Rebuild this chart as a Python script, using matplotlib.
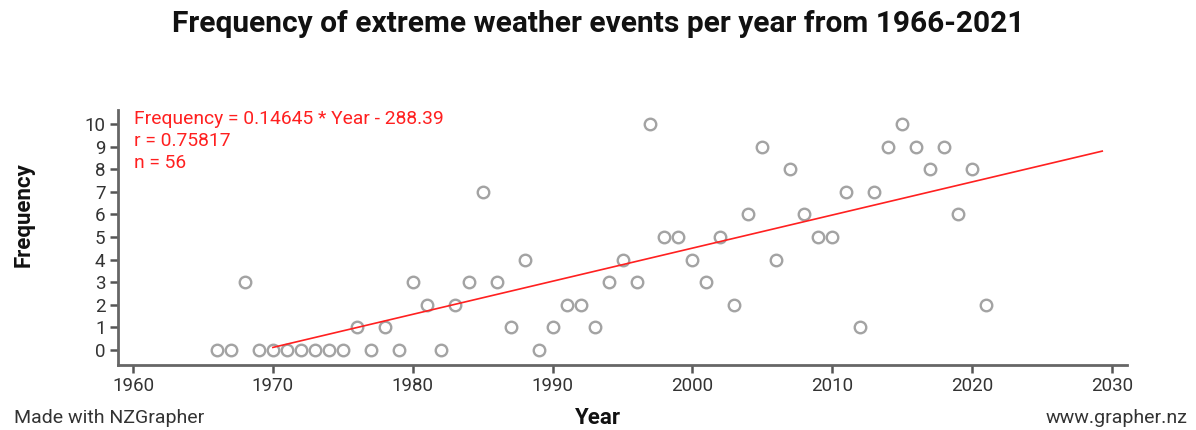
import matplotlib
matplotlib.use('Agg')
import matplotlib.pyplot as plt
import numpy as np

plt.rcParams['font.family'] = ['Roboto', 'DejaVu Sans']

years = list(range(1966, 2022))
freq = [0, 0, 3, 0, 0, 0, 0, 0, 0, 0,   # 1966-1975
        1, 0, 1, 0, 3, 2, 0, 2, 3, 7,   # 1976-1985
        3, 1, 4, 0, 1, 2, 2, 1, 3, 4,   # 1986-1995
        3, 10, 5, 5, 4, 3, 5, 2, 6, 9,  # 1996-2005
        4, 8, 6, 5, 5, 7, 1, 7, 9, 10,  # 2006-2015
        9, 8, 9, 6, 8, 2]               # 2016-2021

slope = 0.14645
intercept = -288.39
r_value = 0.75817
line_x = [1970, 2029.3]  # extent of the fitted line as drawn

xticks = [1960, 1970, 1980, 1990, 2000, 2010, 2020, 2030]
yticks = list(range(0, 11))

fig = plt.figure(figsize=(11.96, 4.30), dpi=100)
ax = fig.add_axes([0.0987, 0.1512, 0.8436, 0.593])

ax.plot(years, freq, linestyle='none', marker='o', markersize=8.3,
        markerfacecolor='none', markeredgecolor='#a3a3a3', markeredgewidth=1.7)

lx = np.array(line_x)
ax.plot(lx, slope * lx + intercept, color='#ff2020', linewidth=1.2)

ax.set_xlim(1958.93, 2031.07)
ax.set_ylim(-0.66, 10.62)
ax.set_xticks(xticks)
ax.set_yticks(yticks)
ax.tick_params(axis='both', length=6, width=1.8, color='#555555',
               labelcolor='#333333', labelsize=13.5, pad=3)

for s in ['top', 'right']:
    ax.spines[s].set_visible(False)
for s in ['left', 'bottom']:
    ax.spines[s].set_linewidth(2)
    ax.spines[s].set_color('#666666')

# regression info
info = ['Frequency = %.5f * Year - %.2f' % (slope, -intercept),
        'r = %.5f' % r_value,
        'n = %d' % len(years)]
for i, t in enumerate(info):
    ax.text(0.0159, 0.965 - i * 0.0863, t, transform=ax.transAxes,
            color='#ff2020', fontsize=13.9, va='center', ha='left')

fig.text(0.5, 0.944, 'Frequency of extreme weather events per year from 1966-2021',
         ha='center', va='center', fontsize=21.5, fontweight='bold', color='#111111')
fig.text(0.02, 0.5, 'Frequency', rotation=90, ha='center', va='center',
         fontsize=16, fontweight='bold', color='#111111')
fig.text(0.5, 0.028, 'Year', ha='center', va='center',
         fontsize=16, fontweight='bold', color='#111111')
fig.text(0.0117, 0.028, 'Made with NZGrapher', ha='left', va='center',
         fontsize=14, color='#333333')
fig.text(0.9925, 0.028, 'www.grapher.nz', ha='right', va='center',
         fontsize=14, color='#333333')

plt.savefig('out.png', dpi=100)
